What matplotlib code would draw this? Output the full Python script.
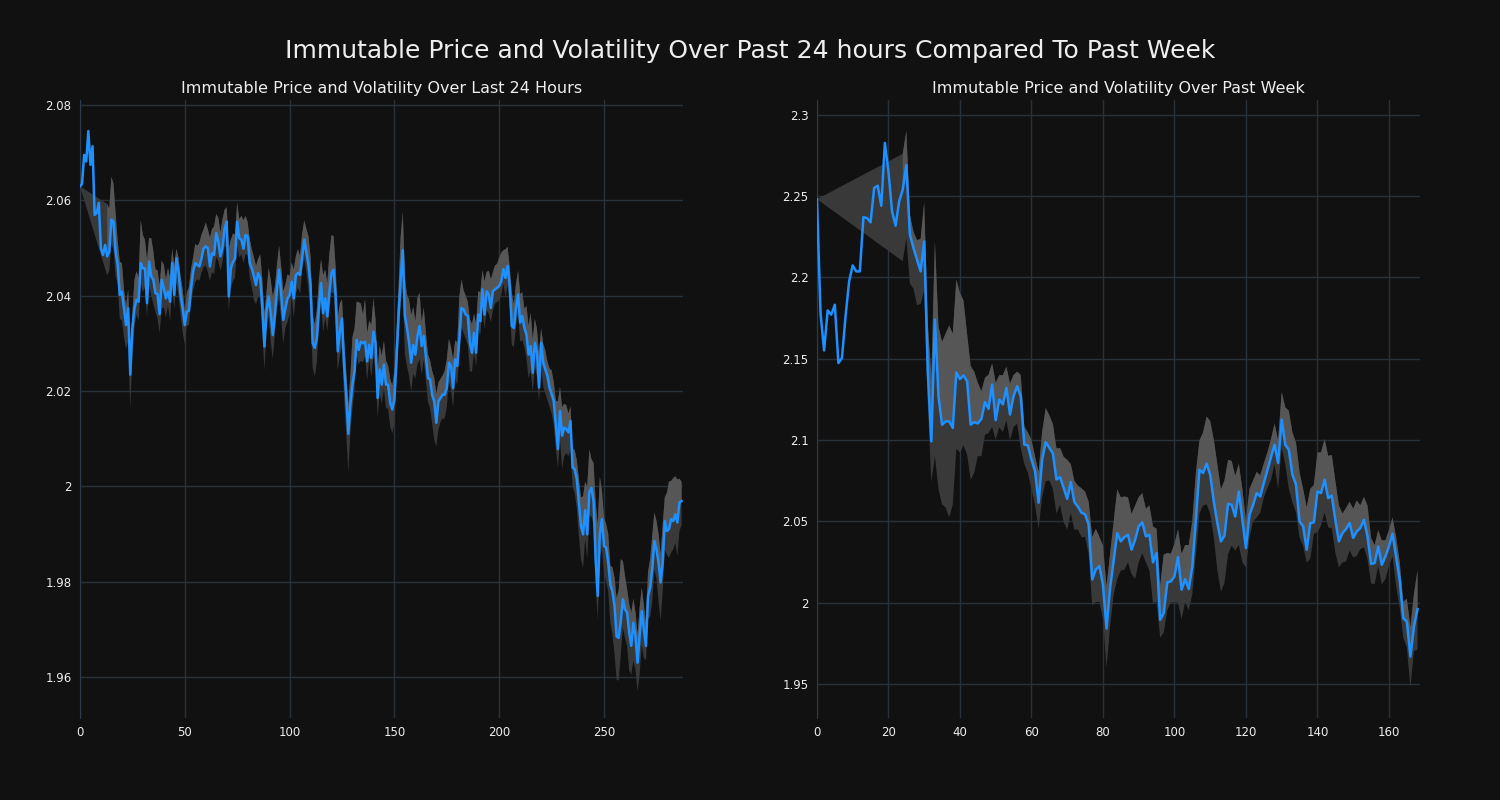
import numpy as np
import matplotlib
matplotlib.use('Agg')
import matplotlib.pyplot as plt
from matplotlib.ticker import MultipleLocator, FuncFormatter

# Last 24 hours, 5 minute steps
day_price = [
    2.0629, 2.0634, 2.0695, 2.0681, 2.0745, 2.0674, 2.0713, 2.0569, 2.0573, 2.0594,
    2.0499, 2.0485, 2.0506, 2.0482, 2.0492, 2.0559, 2.0555, 2.0492, 2.0464, 2.0401,
    2.0408, 2.0373, 2.0338, 2.0373, 2.0234, 2.0331, 2.0373, 2.0391, 2.0387, 2.0468,
    2.0457, 2.0457, 2.0384, 2.0471, 2.0440, 2.0433, 2.0405, 2.0403, 2.0361, 2.0433,
    2.0415, 2.0394, 2.0408, 2.0387, 2.0468, 2.0401, 2.0478, 2.0450, 2.0401, 2.0373,
    2.0338, 2.0366, 2.0368, 2.0415, 2.0450, 2.0468, 2.0464, 2.0461, 2.0478, 2.0499,
    2.0503, 2.0499, 2.0461, 2.0489, 2.0485, 2.0531, 2.0513, 2.0482, 2.0500, 2.0540,
    2.0555, 2.0398, 2.0457, 2.0470, 2.0478, 2.0555, 2.0520, 2.0517, 2.0498, 2.0527,
    2.0524, 2.0468, 2.0457, 2.0440, 2.0422, 2.0447, 2.0436, 2.0373, 2.0293, 2.0366,
    2.0398, 2.0363, 2.0317, 2.0359, 2.0415, 2.0454, 2.0401, 2.0349, 2.0373, 2.0394,
    2.0401, 2.0429, 2.0394, 2.0443, 2.0447, 2.0443, 2.0480, 2.0517, 2.0490, 2.0464,
    2.0422, 2.0300, 2.0290, 2.0310, 2.0373, 2.0426, 2.0363, 2.0394, 2.0356, 2.0408,
    2.0447, 2.0454, 2.0398, 2.0283, 2.0324, 2.0352, 2.0255, 2.0192, 2.0110, 2.0171,
    2.0213, 2.0241, 2.0307, 2.0286, 2.0303, 2.0300, 2.0303, 2.0262, 2.0297, 2.0269,
    2.0324, 2.0300, 2.0185, 2.0245, 2.0213, 2.0255, 2.0213, 2.0213, 2.0175, 2.0161,
    2.0182, 2.0266, 2.0357, 2.0434, 2.0495, 2.0357, 2.0332, 2.0301, 2.0259, 2.0296,
    2.0276, 2.0315, 2.0336, 2.0294, 2.0315, 2.0273, 2.0227, 2.0224, 2.0192, 2.0178,
    2.0133, 2.0178, 2.0185, 2.0192, 2.0192, 2.0206, 2.0259, 2.0252, 2.0206, 2.0266,
    2.0252, 2.0308, 2.0374, 2.0371, 2.0360, 2.0357, 2.0301, 2.0280, 2.0322, 2.0280,
    2.0360, 2.0346, 2.0413, 2.0360, 2.0409, 2.0402, 2.0374, 2.0409, 2.0413, 2.0416,
    2.0420, 2.0430, 2.0455, 2.0437, 2.0462, 2.0420, 2.0336, 2.0332, 2.0374, 2.0402,
    2.0343, 2.0357, 2.0332, 2.0318, 2.0276, 2.0294, 2.0238, 2.0301, 2.0280, 2.0207,
    2.0301, 2.0259, 2.0245, 2.0231, 2.0207, 2.0193, 2.0179, 2.0130, 2.0078, 2.0158,
    2.0106, 2.0123, 2.0120, 2.0113, 2.0137, 2.0039, 2.0036, 2.0015, 1.9966, 1.9917,
    1.9899, 1.9950, 1.9899, 1.9987, 1.9997, 1.9969, 1.9847, 1.9770, 1.9900, 1.9931,
    1.9875, 1.9871, 1.9840, 1.9794, 1.9780, 1.9749, 1.9685, 1.9682, 1.9717, 1.9763,
    1.9742, 1.9735, 1.9693, 1.9665, 1.9714, 1.9686, 1.9630, 1.9686, 1.9738, 1.9700,
    1.9665, 1.9770, 1.9787, 1.9826, 1.9885, 1.9868, 1.9840, 1.9798, 1.9840, 1.9927,
    1.9906, 1.9910, 1.9931, 1.9927, 1.9941, 1.9924, 1.9966, 1.9969,
]
# distance of the band above / below the price, in thousandths (None = no band)
day_up = [0] + [None] * 12 + [
    11, 9, 9, 8, 8, 5, 7,
    6, 4, 4, 4, 5, 3, 6, 6, 5, 9,
    7, 6, 9, 5, 8, 6, 5, 5, 6, 4,
    5, 4, 5, 5, 3, 6, 2, 3, 4, 4,
    3, 4, 5, 4, 3, 4, 4, 5, 5, 4,
    5, 4, 6, 5, 6, 4, 5, 5, 6, 4,
    3, 10, 6, 6, 5, 4, 4, 5, 6, 4,
    3, 5, 4, 4, 4, 3, 5, 6, 7, 4,
    6, 7, 8, 6, 5, 5, 6, 6, 5, 5,
    4, 4, 6, 4, 5, 4, 5, 4, 5, 6,
    6, 6, 5, 6, 6, 5, 8, 6, 7, 8,
    8, 7, 6, 7, 6, 4, 5, 5, 6, 6,
    10, 9, 8, 10, 8, 6, 9, 6, 5, 7,
    7, 5, 6, 5, 6, 5, 5, 4, 5, 5,
    6, 6, 6, 9, 8, 8, 7, 9, 10, 8,
    7, 8, 7, 5, 6, 5, 5, 4, 5, 5,
    6, 4, 4, 4, 5, 6, 5, 4, 6, 4,
    5, 9, 6, 4, 4, 3, 5, 6, 4, 6,
    5, 6, 4, 7, 4, 5, 6, 4, 5, 5,
    6, 6, 4, 6, 4, 4, 7, 5, 5, 5,
    6, 5, 4, 6, 6, 7, 7, 5, 5, 7,
    3, 4, 4, 3, 4, 5, 4, 5, 10, 5,
    6, 5, 5, 4, 3, 4, 4, 4, 5, 6,
    8, 6, 10, 9, 6, 8, 12, 15, 12, 6,
    6, 5, 6, 4, 5, 6, 8, 10, 13, 8,
    7, 5, 6, 7, 5, 5, 6, 6, 5, 5,
    5, 5, 6, 7, 6, 6, 6, 6, 8, 5,
    8, 10, 8, 9, 8, 9, 5, 4,
]
day_down = [0] + [None] * 12 + [
    4, 4, 5, 6, 5, 4, 5,
    6, 6, 5, 7, 7, 6, 4, 3, 4, 4,
    5, 4, 3, 5, 4, 5, 4, 5, 4, 6,
    4, 4, 3, 4, 5, 3, 5, 5, 4, 5,
    4, 3, 3, 3, 4, 4, 3, 3, 3, 4,
    4, 5, 3, 4, 4, 5, 4, 3, 3, 4,
    5, 3, 4, 4, 4, 5, 4, 3, 3, 4,
    4, 3, 4, 5, 4, 5, 4, 5, 5, 4,
    4, 6, 5, 4, 4, 6, 5, 5, 4, 5,
    4, 3, 4, 4, 3, 4, 3, 4, 4, 5,
    6, 5, 6, 5, 4, 4, 4, 4, 3, 4,
    4, 5, 6, 4, 5, 6, 7, 8, 8, 6,
    5, 4, 3, 3, 4, 4, 3, 4, 3, 4,
    5, 6, 4, 5, 4, 5, 5, 5, 5, 5,
    5, 5, 5, 5, 8, 8, 8, 7, 6, 6,
    5, 6, 7, 6, 5, 5, 5, 6, 6, 8,
    5, 6, 5, 5, 5, 4, 4, 5, 4, 4,
    4, 3, 4, 5, 5, 6, 6, 4, 4, 3,
    3, 3, 4, 3, 4, 4, 3, 4, 3, 3,
    3, 3, 3, 4, 4, 4, 4, 4, 4, 4,
    4, 5, 4, 5, 5, 5, 4, 5, 5, 3,
    5, 5, 5, 5, 4, 4, 5, 5, 4, 6,
    7, 6, 5, 5, 6, 4, 5, 6, 7, 7,
    7, 6, 5, 5, 6, 5, 5, 5, 5, 6,
    6, 7, 6, 8, 9, 10, 9, 9, 7, 6,
    6, 7, 8, 6, 8, 7, 6, 8, 7, 6,
    3, 5, 6, 7, 6, 6, 8, 8, 6, 6,
    5, 6, 7, 6, 6, 7, 6, 5,
]

# Past week, hourly
week_price = [
    2.2480, 2.1780, 2.1550, 2.1796, 2.1770, 2.1831, 2.1472, 2.1503, 2.1760, 2.1975,
    2.2073, 2.2036, 2.2036, 2.2370, 2.2364, 2.2338, 2.2549, 2.2563, 2.2440, 2.2826,
    2.2651, 2.2405, 2.2317, 2.2467, 2.2539, 2.2690, 2.2262, 2.2180, 2.2108, 2.2036,
    2.2221, 2.1420, 2.0991, 2.1739, 2.1267, 2.1093, 2.1114, 2.1114, 2.1073, 2.1415,
    2.1374, 2.1396, 2.1361, 2.1094, 2.1109, 2.1101, 2.1129, 2.1232, 2.1191, 2.1340,
    2.1121, 2.1248, 2.1218, 2.1320, 2.1156, 2.1269, 2.1330, 2.1269, 2.0972, 2.0966,
    2.0880, 2.0808, 2.0614, 2.0880, 2.0986, 2.0951, 2.0917, 2.0757, 2.0771, 2.0706,
    2.0638, 2.0741, 2.0618, 2.0589, 2.0552, 2.0542, 2.0480, 2.0142, 2.0203, 2.0224,
    2.0110, 1.9840, 2.0090, 2.0258, 2.0426, 2.0376, 2.0402, 2.0417, 2.0325, 2.0386,
    2.0468, 2.0493, 2.0407, 2.0417, 2.0247, 2.0304, 1.9894, 1.9935, 2.0124, 2.0130,
    2.0161, 2.0280, 2.0079, 2.0144, 2.0083, 2.0222, 2.0509, 2.0817, 2.0796, 2.0854,
    2.0786, 2.0622, 2.0489, 2.0376, 2.0411, 2.0607, 2.0601, 2.0529, 2.0683, 2.0509,
    2.0335, 2.0540, 2.0600, 2.0673, 2.0652, 2.0735, 2.0813, 2.0894, 2.0970, 2.0858,
    2.1124, 2.0970, 2.0939, 2.0786, 2.0724, 2.0499, 2.0468, 2.0325, 2.0489, 2.0493,
    2.0683, 2.0673, 2.0755, 2.0642, 2.0657, 2.0509, 2.0376, 2.0427, 2.0452, 2.0489,
    2.0397, 2.0437, 2.0458, 2.0509, 2.0407, 2.0237, 2.0243, 2.0345, 2.0232, 2.0283,
    2.0345, 2.0423, 2.0283, 2.0140, 1.9904, 1.9883, 1.9668, 1.9853, 1.9959,
]
week_up = [0] + [None] * 23 + [
    22, 21, 12, 10, 12, 20,
    24, 30, 40, 48, 43, 51, 54, 59, 58, 57,
    53, 46, 29, 36, 31, 25, 17, 15, 21, 13,
    23, 15, 18, 13, 19, 13, 9, 13, 11, 8,
    12, 9, 19, 17, 21, 20, 18, 19, 18, 19,
    24, 11, 13, 13, 15, 14, 14, 26, 25, 18,
    24, 26, 21, 24, 27, 27, 25, 23, 22, 21,
    18, 18, 17, 18, 22, 15, 21, 36, 18, 17,
    20, 17, 22, 21, 27, 28, 29, 18, 25, 29,
    33, 38, 36, 32, 34, 27, 27, 25, 17, 19,
    17, 16, 15, 13, 13, 12, 11, 11, 13, 14,
    17, 23, 24, 26, 26, 30, 23, 26, 21, 23,
    24, 25, 25, 26, 25, 24, 22, 12, 13, 13,
    18, 19, 14, 14, 19, 16, 11, 10, 15, 10,
    10, 10, 12, 11, 10, 14, 18, 20, 24,
]
week_down = [0] + [None] * 23 + [
    44, 45, 30, 25, 28, 20,
    30, 20, 25, 84, 57, 49, 53, 59, 47, 47,
    45, 43, 45, 34, 31, 20, 23, 20, 15, 26,
    12, 17, 17, 20, 16, 19, 23, 32, 12, 17,
    18, 21, 16, 23, 24, 20, 22, 21, 17, 21,
    19, 19, 17, 14, 15, 14, 18, 16, 20, 22,
    21, 24, 24, 21, 28, 18, 20, 17, 15, 24,
    22, 19, 16, 22, 25, 30, 11, 12, 17, 13,
    16, 28, 18, 14, 13, 17, 21, 27, 20, 25,
    24, 22, 29, 31, 29, 31, 25, 21, 33, 26,
    12, 14, 10, 15, 10, 9, 11, 14, 12, 16,
    17, 12, 24, 17, 17, 10, 12, 8, 22, 7,
    25, 20, 20, 18, 20, 20, 16, 18, 20, 17,
    12, 15, 13, 17, 14, 12, 13, 12, 12, 14,
    12, 14, 18, 17, 12, 16, 19, 15, 25,
]

bg = '#111111'
grid_col = '#29313b'
text_col = '#eeeeee'


def panel(ax, price, up, down, title, xstep, ystep, ylim):
    x = np.arange(len(price))
    p = np.array(price)
    hi = p + np.array(up, dtype=float) / 1000
    lo = p - np.array(down, dtype=float) / 1000
    ok = ~np.isnan(hi)
    # whole band (dark), then the part above the price (lighter)
    ax.fill(np.r_[x[ok], x[ok][::-1]], np.r_[hi[ok], lo[ok][::-1]],
            color='#393939', lw=0, zorder=2)
    ax.fill_between(x, p, hi, color='#565656', lw=0, zorder=2)
    ax.plot(x, p, color='#1e90ff', lw=1.8, zorder=3)

    ax.set_facecolor(bg)
    ax.set_title(title, color=text_col, fontsize=11.5, pad=5)
    ax.set_xlim(0, len(price) - 0.3)
    ax.set_ylim(*ylim)
    ax.xaxis.set_major_locator(MultipleLocator(xstep))
    ax.yaxis.set_major_locator(MultipleLocator(ystep))
    ax.yaxis.set_major_formatter(FuncFormatter(lambda v, pos: '{:g}'.format(round(v, 4))))
    ax.grid(True, color=grid_col, lw=1)
    ax.set_axisbelow(True)
    ax.tick_params(colors=text_col, labelsize=8.5, length=0, pad=6)
    for s in ['top', 'right', 'bottom']:
        ax.spines[s].set_visible(False)
    ax.spines['left'].set_color('#2c3a4a')


fig, (ax1, ax2) = plt.subplots(1, 2, figsize=(15, 8), dpi=100)
fig.patch.set_facecolor(bg)
fig.subplots_adjust(left=0.0533, right=0.9467, top=0.875, bottom=0.1025, wspace=0.222)

panel(ax1, day_price, day_up, day_down, 'Immutable Price and Volatility Over Last 24 Hours',
      50, 0.02, (1.9514, 2.081))
panel(ax2, week_price, week_up, week_down, 'Immutable Price and Volatility Over Past Week',
      20, 0.05, (1.929, 2.309))

fig.suptitle('Immutable Price and Volatility Over Past 24 hours Compared To Past Week',
             color=text_col, fontsize=18, y=0.951)

fig.savefig('out.png', facecolor=bg)
